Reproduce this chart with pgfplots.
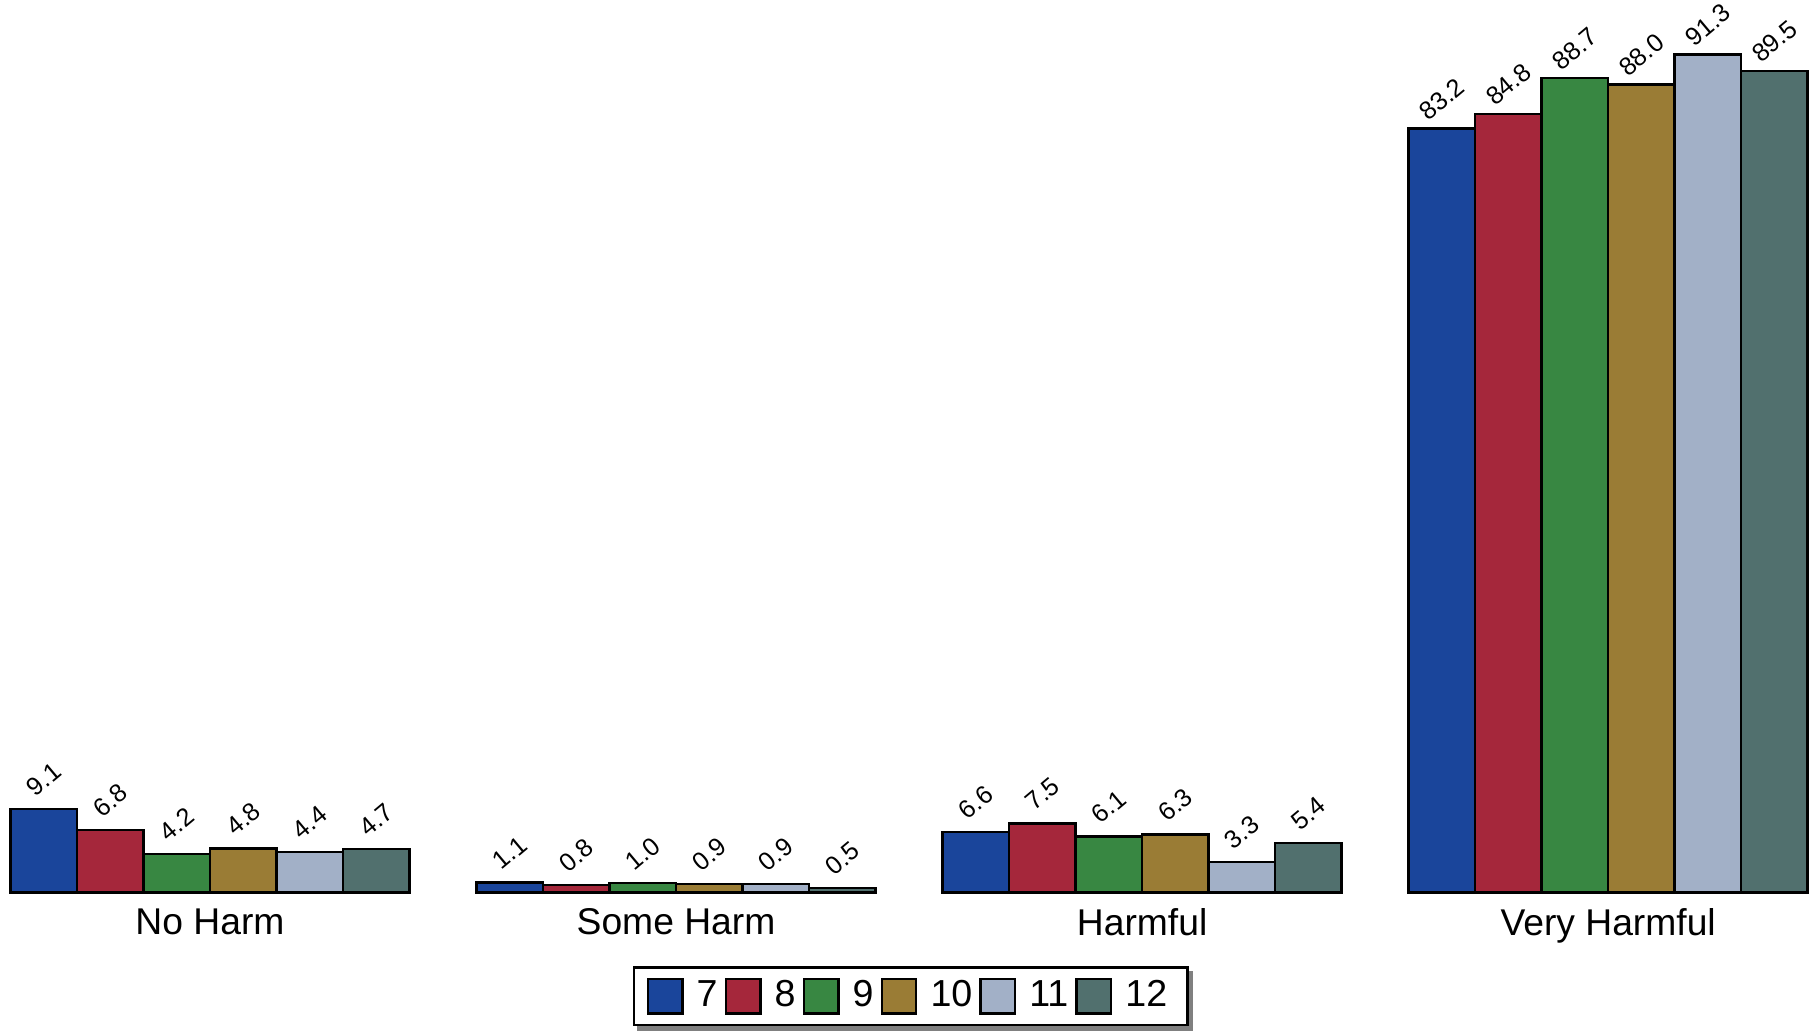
\documentclass[border=0pt]{standalone}
\usepackage{pgfplots}
\pgfplotsset{compat=1.18}
\usepackage{fontspec}
\setmainfont{Liberation Sans}
\pgfdeclarelayer{background}
\pgfsetlayers{background,main}
\definecolor{c7}{RGB}{26,69,155}
\definecolor{c8}{RGB}{165,39,59}
\definecolor{c9}{RGB}{56,135,66}
\definecolor{c10}{RGB}{154,124,53}
\definecolor{c11}{RGB}{162,176,199}
\definecolor{c12}{RGB}{81,112,110}
\begin{document}
\begin{tikzpicture}
\begin{axis}[
  scale only axis, width=18.09cm, height=8.92cm,
  xmin=-0.4506, xmax=3.431, ymin=0, ymax=97.18,
  clip=false,
  ybar=0pt, bar width=0.1427,
  axis line style={draw=none},
  major tick length=0pt,
  ytick=\empty,
  xtick={0,1,2,3},
  xticklabels={No Harm, Some Harm, Harmful, Very Harmful},
  x tick label style={font=\fontsize{10.6}{12}\selectfont, yshift=-0.4mm},
  nodes near coords={\pgfmathprintnumber[fixed,fixed zerofill,precision=1,assume math mode=true]{\pgfplotspointmeta}},
  every node near coord/.append style={font=\fontsize{7.2}{8}\selectfont, inner sep=0pt, anchor=center, yshift=8.4pt, rotate=40, text=black},
  legend columns=6,
  legend style={at={(0.5,0)}, anchor=north, xshift=0.6mm, yshift=-7.4mm, draw=black, line width=0.7pt, fill=white,
    inner xsep=1.3mm, inner ysep=0.6mm, name=leg,
    font=\fontsize{10.7}{12}\selectfont,
    /tikz/every odd column/.append style={column sep=0.6mm},
    /tikz/every even column/.append style={column sep=0mm}},
  legend image code/.code={\draw[#1] (0cm,-0.1725cm) rectangle (0.345cm,0.1725cm);},
]
\addplot[fill=c7, draw=black, line width=0.7pt] coordinates {(0,9.1) (1,1.1) (2,6.6) (3,83.2)};
\addplot[fill=c8, draw=black, line width=0.7pt] coordinates {(0,6.8) (1,0.8) (2,7.5) (3,84.8)};
\addplot[fill=c9, draw=black, line width=0.7pt] coordinates {(0,4.2) (1,1.0) (2,6.1) (3,88.7)};
\addplot[fill=c10, draw=black, line width=0.7pt] coordinates {(0,4.8) (1,0.9) (2,6.3) (3,88.0)};
\addplot[fill=c11, draw=black, line width=0.7pt] coordinates {(0,4.4) (1,0.9) (2,3.3) (3,91.3)};
\addplot[fill=c12, draw=black, line width=0.7pt] coordinates {(0,4.7) (1,0.5) (2,5.4) (3,89.5)};
\legend{7,8,9,10,11,12}
\end{axis}
\begin{pgfonlayer}{background}
\fill[gray] ([xshift=0.45mm,yshift=-0.45mm]leg.south west) rectangle ([xshift=0.45mm,yshift=-0.45mm]leg.north east);
\end{pgfonlayer}
\end{tikzpicture}
\end{document}
